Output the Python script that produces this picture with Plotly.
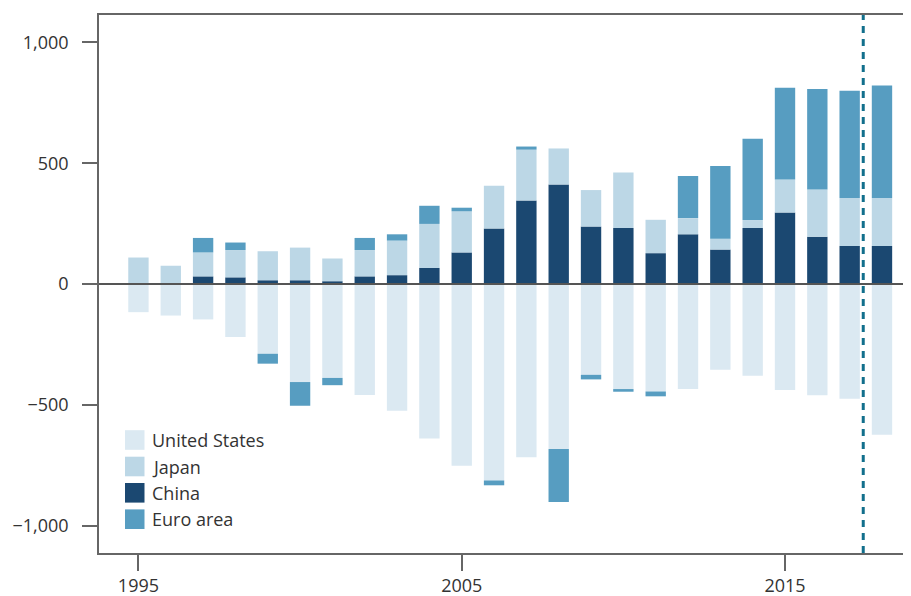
import plotly.graph_objects as go

years = list(range(1995, 2019))

united_states = [-116, -130, -146, -219, -288, -405, -388, -459, -524, -638, -751, -812,
                 -716, -682, -375, -434, -444, -434, -354, -379, -438, -460, -474, -623]
japan = [110, 76, 99, 113, 120, 135, 94, 109, 143, 182, 170, 177,
         210, 149, 151, 230, 138, 67, 45, 33, 137, 195, 198, 198]
china = [0, 0, 32, 28, 16, 16, 12, 32, 37, 67, 131, 230,
         346, 412, 238, 232, 128, 206, 143, 232, 296, 196, 158, 158]
euro_area = [0, 0, 60, 31, -41, -98, -30, 50, 26, 75, 15, -20,
             13, -219, -19, -11, -20, 174, 300, 336, 379, 416, 444, 465]

y_ticks = [-1000, -500, 0, 500, 1000]
x_ticks = [1995, 2005, 2015]
forecast_start = 2017.42

# stacking order: US, China, Japan, Euro (legend shows US, Japan, China, Euro)
series = [
    ("United States", united_states, "#dbe9f2"),
    ("China", china, "#1b4871"),
    ("Japan", japan, "#bcd7e6"),
    ("Euro area", euro_area, "#579dc1"),
]
legend_order = ["United States", "Japan", "China", "Euro area"]
colors = {name: c for name, _, c in series}

# the page body adds an 8px margin on each side, so the figure gets 895px
OFF = 8
W, H = 911 - 2 * OFF, 596
ML, MT = 99 - OFF, 15 - OFF
MR = 0
MB = H - (553 - OFF)
PW, PH = W - ML - MR, H - MT - MB

fig = go.Figure()
for name, vals, col in series:
    fig.add_trace(go.Bar(
        x=years, y=vals, name=name, width=0.63,
        marker=dict(color=col, line=dict(width=0)),
        showlegend=False,
    ))

# zero line above the bars
fig.add_shape(type="line", xref="paper", x0=0, x1=1, yref="y", y0=0, y1=0,
              line=dict(color="#555555", width=2), layer="above")

# forecast divider
fig.add_vline(x=forecast_start, line=dict(color="#126f8c", width=3, dash="7px,6px"))


def px_x(p):
    return (p - OFF - ML) / PW


def px_y(p):
    return (H - MB - (p - OFF)) / PH


# hand-made legend with larger swatches
row_y = [440, 466.5, 492.8, 519.2]
for name, cy in zip(legend_order, row_y):
    fig.add_shape(type="rect", xref="paper", yref="paper",
                  x0=px_x(125), x1=px_x(144.5), y0=px_y(cy + 9.8), y1=px_y(cy - 9.8),
                  fillcolor=colors[name], line=dict(width=0))
    fig.add_annotation(xref="paper", yref="paper", x=px_x(150), y=px_y(cy),
                       text=name, showarrow=False, xanchor="left", yanchor="middle",
                       font=dict(size=18, color="#333333"))

fig.update_layout(
    width=W, height=H, autosize=False,
    margin=dict(l=ML, r=MR, t=MT, b=MB, pad=0),
    barmode="relative",
    plot_bgcolor="white", paper_bgcolor="white",
    font=dict(family="Open Sans", size=18, color="#333333"),
    showlegend=False,
    xaxis=dict(
        range=[1993.78, 2018.65],
        tickvals=x_ticks,
        ticks="outside", ticklen=16, tickwidth=1.5, tickcolor="#666666",
        showline=True, linecolor="#666666", linewidth=1.5, mirror=True,
        showgrid=False, zeroline=False, automargin=False,
        ticklabelstandoff=0,
    ),
    yaxis=dict(
        range=[-1112, 1113],
        tickvals=y_ticks, tickformat=",",
        ticks="outside", ticklen=15, tickwidth=1.5, tickcolor="#666666",
        showline=True, linecolor="#666666", linewidth=1.5,
        showgrid=False, zeroline=False, automargin=False,
        ticklabelstandoff=10,
    ),
)

fig.write_html("out.html")
